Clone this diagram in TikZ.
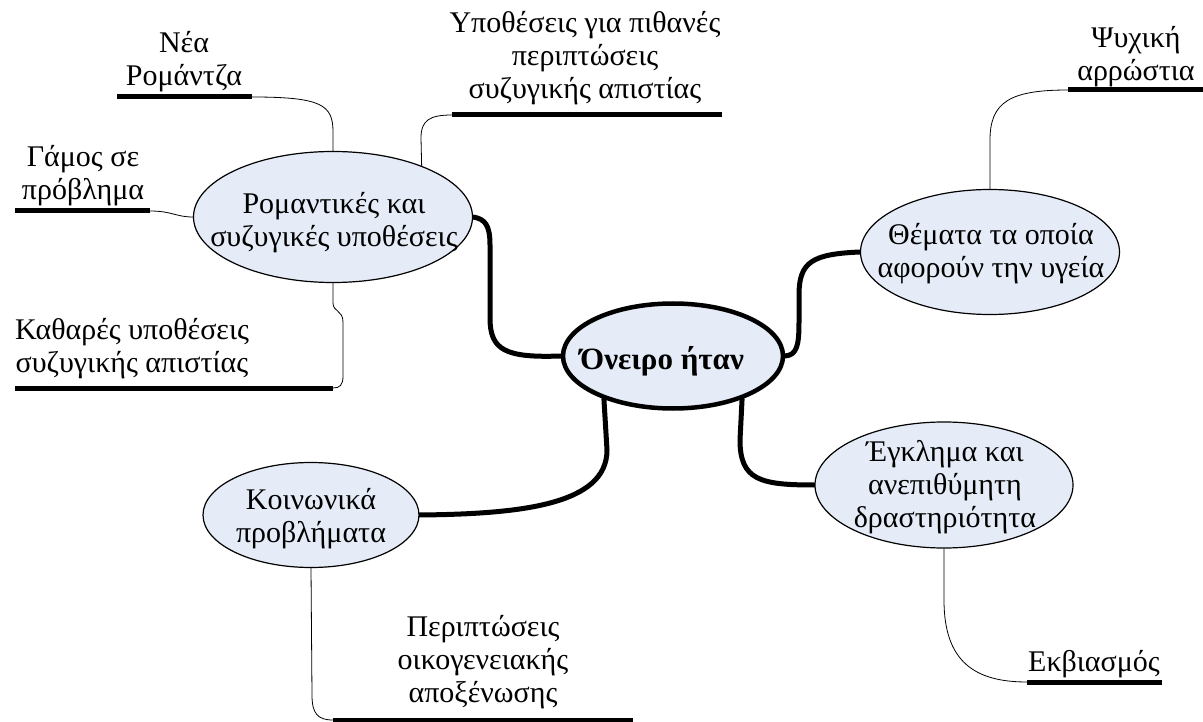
\documentclass[tikz,border=0pt]{standalone}
\usepackage{fontspec}
\setmainfont{Liberation Serif}
\usetikzlibrary{shapes.geometric,backgrounds}
\definecolor{bubblefill}{RGB}{230,236,247}
\begin{document}
\begin{tikzpicture}[x=1pt,y=-1pt,
  bubble/.style={ellipse,draw=black,fill=bubblefill,line width=1.2pt,inner sep=0pt},
  hub/.style={bubble,line width=4.5pt},
  txt/.style={font=\fontsize{30}{33}\selectfont,align=center,inner sep=0pt,text depth=0pt,anchor=south},
  branch/.style={line width=5pt,line cap=round},
  twig/.style={line width=0.8pt},
  uline/.style={line width=5pt}]
\useasboundingbox (0,0) rectangle (1203,722);

% bubbles
\node[hub,minimum width=220pt,minimum height=105pt] (cen) at (673,356) {};
\node[bubble,minimum width=279pt,minimum height=131pt] (rom) at (333,217) {};
\node[bubble,minimum width=259pt,minimum height=125pt] (the) at (990,252) {};
\node[bubble,minimum width=216pt,minimum height=105pt] (kin) at (311,515) {};
\node[bubble,minimum width=258pt,minimum height=126pt] (egk) at (944,485) {};

% bubble texts
\node[txt,font=\fontsize{31}{33}\selectfont\bfseries] (cent) at (662,370) {Όνειρο ήταν};
\node[txt] (romt) at (334,247) {Ρομαντικές και\\συζυγικές υποθέσεις};
\node[txt] (thet) at (991,278) {Θέματα τα οποία\\αφορούν την υγεία};
\node[txt] (kint) at (311,543) {Κοινωνικά\\προβλήματα};
\node[txt] (egkt) at (945,528) {Έγκλημα και\\ανεπιθύμητη\\δραστηριότητα};

% leaf labels
\node[txt] (nea) at (184,86) {Νέα\\Ρομάντζα};
\node[txt] (gam) at (83,200) {Γάμος σε\\πρόβλημα};
\node[txt] (kath) at (132,373) {Καθαρές υποθέσεις\\συζυγικής απιστίας};
\node[txt] (ypo) at (585,99) {Υποθέσεις για πιθανές\\περιπτώσεις\\συζυγικής απιστίας};
\node[txt] (psy) at (1136,81) {Ψυχική\\αρρώστια};
\node[txt] (per) at (483,703) {Περιπτώσεις\\οικογενειακής\\αποξένωσης};
\node[txt] (ekv) at (1094,672) {Εκβιασμός};

% underline end points
\coordinate (neaL) at (117,97);  \coordinate (neaR) at (252,97);
\coordinate (gamL) at (15,211);  \coordinate (gamR) at (150,211);
\coordinate (kathL) at (15,388); \coordinate (kathR) at (333,388);
\coordinate (ypoL) at (452,115); \coordinate (ypoR) at (722,115);
\coordinate (psyL) at (1068,90); \coordinate (psyR) at (1203,90);
\coordinate (perL) at (333,720); \coordinate (perR) at (633,720);
\coordinate (ekvL) at (1027,682); \coordinate (ekvR) at (1162,682);

\begin{scope}[on background layer]
% underlines
\draw[uline] (neaL) -- (neaR);
\draw[uline] (gamL) -- (gamR);
\draw[uline] (kathL) -- (kathR);
\draw[uline] (ypoL) -- (ypoR);
\draw[uline] (psyL) -- (psyR);
\draw[uline] (perL) -- (perR);
\draw[uline] (ekvL) -- (ekvR);

% thick branches
\draw[branch] (cen.west) .. controls (505,358) and (490,350) .. (490,318)
  -- (490,245) .. controls (490,225) and (485,219) .. (rom.east);
\draw[branch] (cen.east) .. controls (797,355) and (799,345) .. (799,322)
  -- (799,295) .. controls (799,262) and (812,254) .. (the.west);
\draw[branch] (cen.212) -- (607,450) .. controls (607,505) and (520,514) .. (kin.east);
\draw[branch] (cen.328) -- (740,440) .. controls (740,480) and (760,485) .. (egk.west);

% thin twigs
\draw[twig] (neaR) .. controls (322,97) and (333,105) .. (333,132) -- (rom.north);
\draw[twig] (gamR) .. controls (172,211) and (176,217) .. (rom.west);
\draw[twig] (rom.south) -- (333,303) .. controls (333,312) and (343,310) .. (343,322)
  -- (343,376) .. controls (343,385) and (340,388) .. (kathR);
\draw[twig] (rom.30) -- (421,138) .. controls (421,120) and (430,115) .. (ypoL);
\draw[twig] (the.north) -- (990,140) .. controls (990,102) and (1010,90) .. (psyL);
\draw[twig] (kin.south) -- (312,695) .. controls (312,714) and (318,720) .. (perL);
\draw[twig] (egk.south) -- (944,600) .. controls (944,662) and (975,682) .. (ekvL);
\end{scope}
\end{tikzpicture}
\end{document}
